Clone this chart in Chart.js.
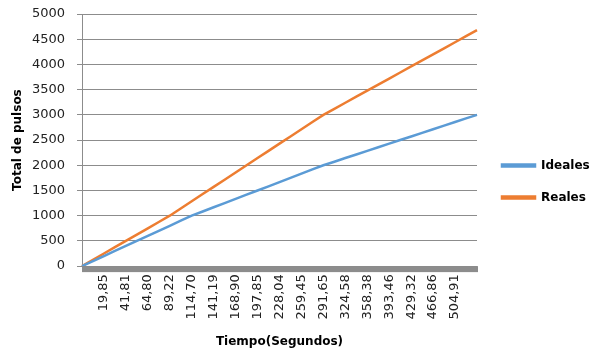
<!DOCTYPE html>
<html>
<head>
<meta charset="utf-8">
<script src="https://cdn.jsdelivr.net/npm/chart.js@4.4.1/dist/chart.umd.min.js"></script>
<style>
html,body{margin:0;padding:0;background:#fff;}
#wrap{width:592px;height:349px;position:relative;}
</style>
</head>
<body>
<div id="wrap"><canvas id="c" width="592" height="349"></canvas></div>
<script>
// Category labels (only every other category carries a visible time label)
const categories = ["", "", "19,85", "", "41,81", "", "64,80", "", "89,22", "", "114,70", "", "141,19", "", "168,90", "", "197,85", "", "228,04", "", "259,45", "", "291,65", "", "324,58", "", "358,38", "", "393,46", "", "429,32", "", "466,86", "", "504,91", "", ""];
const ideales = [0, 100, 200, 300, 400, 500, 600, 700, 800, 900, 1000, 1083, 1167, 1250, 1333, 1417, 1500, 1583, 1667, 1750, 1833, 1917, 2000, 2071, 2143, 2214, 2286, 2357, 2429, 2500, 2571, 2643, 2714, 2786, 2857, 2929, 3000];
const reales = [0, 125, 250, 375, 500, 625, 750, 875, 1000, 1143, 1286, 1429, 1571, 1714, 1857, 2000, 2143, 2286, 2429, 2571, 2714, 2857, 3000, 3120, 3240, 3360, 3480, 3600, 3720, 3840, 3960, 4080, 4200, 4320, 4440, 4560, 4680];
const seriesNames = ["Ideales", "Reales"];
const yTicks = [0, 500, 1000, 1500, 2000, 2500, 3000, 3500, 4000, 4500, 5000];

const legendShift = {
  id: 'legendShift',
  afterLayout(chart) {
    const lg = chart.legend;
    if (lg) { lg.top += 7; lg.bottom += 7; lg.left += 5; lg.right += 5; }
  }
};

// thick grey category-axis band under the plot area
const axisBand = {
  id: 'axisBand',
  beforeDatasetsDraw(chart) {
    const { ctx, chartArea } = chart;
    ctx.save();
    ctx.fillStyle = '#8c8c8c';
    ctx.fillRect(chartArea.left, chartArea.bottom, chartArea.right - chartArea.left + 1, 6);
    ctx.restore();
  }
};

new Chart(document.getElementById('c'), {
  type: 'line',
  data: {
    labels: categories,
    datasets: [
      { label: seriesNames[0], data: ideales, borderColor: '#5b9bd5', backgroundColor: '#5b9bd5', borderWidth: 2.5, pointRadius: 0, tension: 0 },
      { label: seriesNames[1], data: reales, borderColor: '#ed7d31', backgroundColor: '#ed7d31', borderWidth: 2.5, pointRadius: 0, tension: 0 }
    ]
  },
  options: {
    responsive: false,
    animation: false,
    layout: { padding: { top: 0, right: 0, left: 8, bottom: 0 } },
    plugins: {
      legend: {
        position: 'right',
        maxWidth: 115,
        labels: {
          font: { family: 'DejaVu Sans', size: 12, weight: 'bold' },
          color: '#000',
          boxWidth: 33,
          boxHeight: 2,
          padding: 20
        }
      },
      tooltip: { enabled: false }
    },
    scales: {
      x: {
        offset: false,
        grid: { display: false, drawTicks: false },
        border: { display: false },
        ticks: {
          autoSkip: false, maxRotation: 90, minRotation: 90,
          font: { family: 'DejaVu Sans', size: 13 }, color: '#222', padding: 8
        },
        title: { display: true, text: 'Tiempo(Segundos)', font: { family: 'DejaVu Sans', size: 12, weight: 'bold' }, color: '#000', padding: { top: 7, bottom: 0 } }
      },
      y: {
        min: 0, max: 5000,
        afterBuildTicks(scale) { scale.ticks = yTicks.map(v => ({ value: v })); },
        afterFit(scale) { scale.width = 74; scale.paddingTop = 14; },
        grid: { color: '#8c8c8c', lineWidth: 1, tickLength: 5 },
        border: { display: true, color: '#8c8c8c', width: 1 },
        ticks: { font: { family: 'DejaVu Sans', size: 13 }, color: '#222', padding: 12, callback: v => String(v) },
        title: { display: true, text: 'Total de pulsos', font: { family: 'DejaVu Sans', size: 12, weight: 'bold' }, color: '#000', padding: { top: 3, bottom: 4 } }
      }
    }
  },
  plugins: [legendShift, axisBand]
});
</script>
</body>
</html>
